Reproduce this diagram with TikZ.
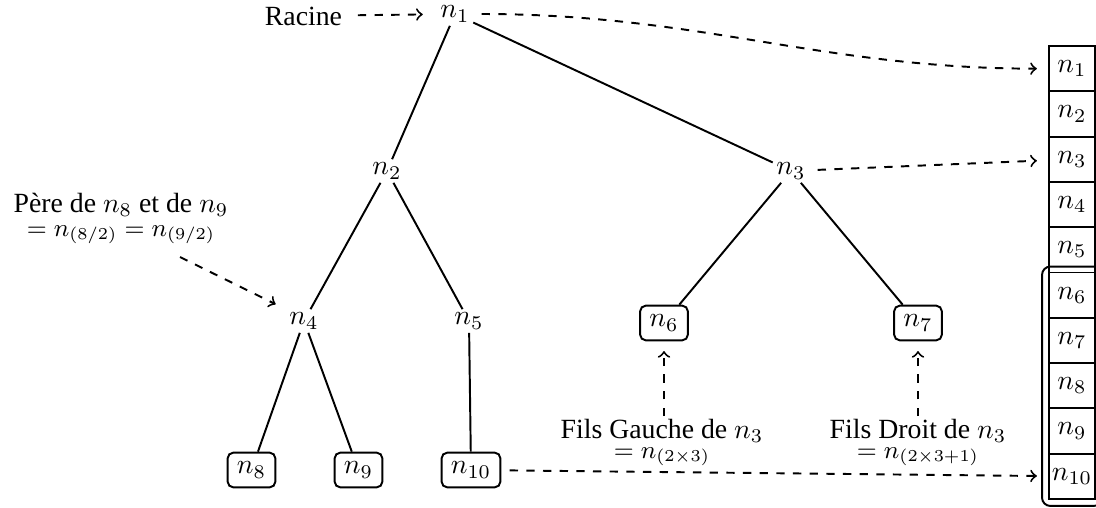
\documentclass[tikz,border=0pt]{standalone}
\usepackage{fontspec}
\setmainfont{Liberation Serif}
\begin{document}
\begin{tikzpicture}[x=0.36pt,y=-0.36pt,line width=0.7pt,
  tn/.style={inner sep=1pt},
  bx/.style={draw,rounded corners=2pt},
  cell/.style={draw,minimum width=16.56pt,minimum height=16.3pt,inner sep=0pt},
  lbl/.style={align=center},
  dsh/.style={dashed,->,shorten <=3pt,shorten >=4pt}]
\useasboundingbox (0,0) rectangle (1096,507);
% tree
\node[tn] (n1) at (455,14) {$n_1$};
\node[tn] (n2) at (387,171) {$n_2$};
\node[tn] (n3) at (791,171) {$n_3$};
\node[tn] (n4) at (304,321) {$n_4$};
\node[tn] (n5) at (469,321) {$n_5$};
\node[bx] (n6) at (664,323) {$n_6$};
\node[bx] (n7) at (918,323) {$n_7$};
\node[bx] (n8) at (251.5,470) {$n_8$};
\node[bx] (n9) at (358.5,470) {$n_9$};
\node[bx] (n10) at (471,470) {$n_{10}$};
\draw (n1) -- (n2);
\draw (n1) -- (n3);
\draw (n2) -- (n4);
\draw (n2) -- (n5);
\draw (n3) -- (n6);
\draw (n3) -- (n7);
\draw (n4) -- (n8);
\draw (n4) -- (n9);
\draw (n5) -- (n10);
% array
\foreach \i in {1,...,10}
  \node[cell] (c\i) at (1072,{46+45.3*(\i-0.5)}) {$n_{\i}$};
\draw[rounded corners=3pt] ([shift={(-6,-5)}]c6.north west) rectangle ([shift={(6,6)}]c10.south east);
% labels
\node[anchor=base] (rac) at (303.5,25) {Racine};
\draw[dsh,shorten <=2pt,shorten >=5pt] (rac) -- (n1);
\node[lbl,anchor=base] (pere) at (121,236) {P\`ere de $n_8$ et de $n_9$\\[-3.5pt]{\small $= n_{(8/2)} = n_{(9/2)}$}};
\coordinate (pt) at (180,257);
\draw[dsh,shorten <=0pt] (pt) -- (n4.north west);
\node[lbl,anchor=base] (fg) at (662,458) {Fils Gauche de $n_3$\\[-5pt]{\small $=n_{(2\times3)}$}};
\node[lbl,anchor=base] (fd) at (918,458) {Fils Droit de $n_3$\\[-5pt]{\small $=n_{(2\times3+1)}$}};
\draw[dsh,shorten <=-2.5pt,shorten >=3.5pt] (fg.north -| n6) -- (n6.south);
\draw[dsh,shorten <=-2.5pt,shorten >=3.5pt] (fd.north -| n7) -- (n7.south);
% array links
\draw[dsh] (n1) to[out=0,in=180] (c1);
\draw[dsh] (n3) -- (c3);
\draw[dsh] (n10) -- (c10);
\end{tikzpicture}
\end{document}
